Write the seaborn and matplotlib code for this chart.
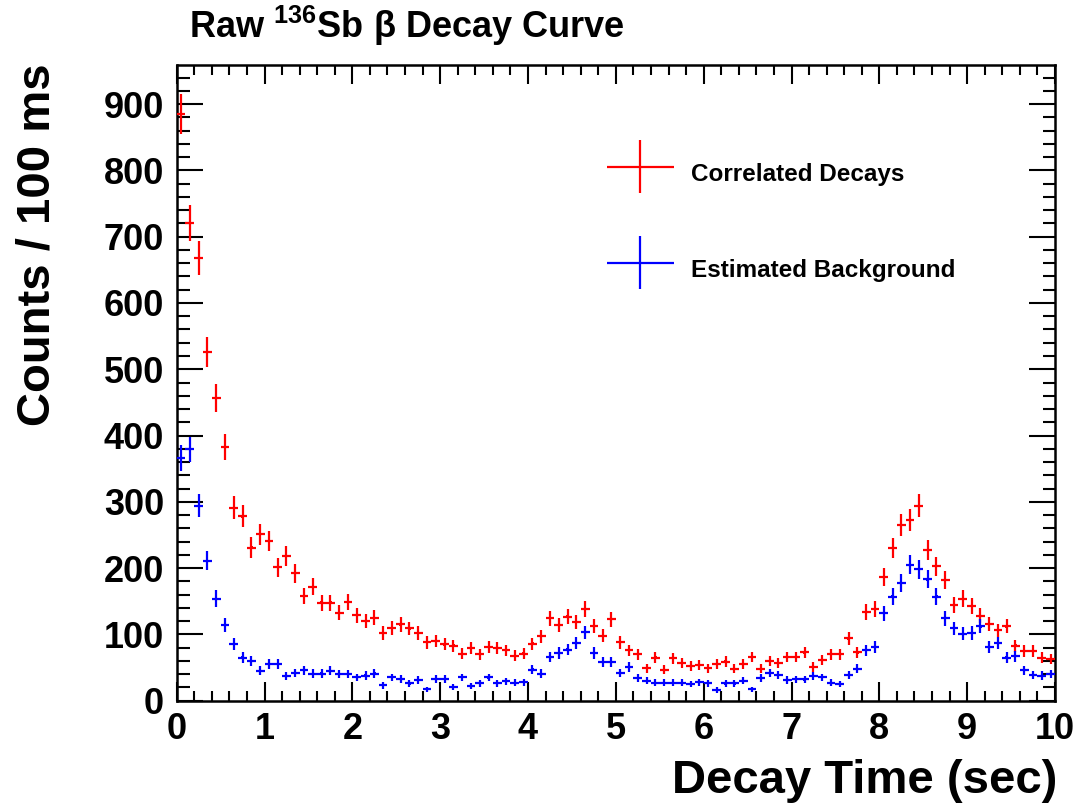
import numpy as np
import pandas as pd
import matplotlib
matplotlib.use("Agg")
import matplotlib.pyplot as plt
import seaborn as sns
from matplotlib.ticker import MultipleLocator
from matplotlib.legend_handler import HandlerErrorbar

# ---- data ----
bin_width = 0.1
time_centers = np.round(np.arange(100) * bin_width + bin_width / 2, 3)

correlated = [885, 721, 668, 526, 457, 383, 291, 278, 231, 251,
              241, 201, 218, 192, 158, 172, 148, 148, 133, 149,
              129, 120, 125, 102, 110, 115, 109, 102, 88, 90,
              85, 83, 71, 79, 70, 81, 79, 76, 68, 71,
              86, 97, 124, 114, 127, 119, 138, 113, 98, 123,
              88, 76, 70, 49, 65, 47, 64, 57, 52, 54,
              49, 56, 59, 48, 56, 66, 48, 60, 57, 66,
              66, 73, 51, 61, 70, 70, 94, 73, 134, 138,
              187, 230, 265, 273, 294, 227, 203, 182, 144, 154,
              143, 128, 116, 106, 112, 83, 75, 75, 65, 63]

background = [366, 379, 294, 211, 154, 114, 86, 65, 60, 45,
              55, 56, 37, 42, 46, 41, 41, 45, 40, 40,
              35, 38, 41, 23, 35, 33, 26, 31, 17, 33,
              33, 21, 35, 22, 26, 35, 26, 29, 27, 28,
              47, 41, 66, 72, 77, 87, 103, 72, 58, 58,
              42, 51, 34, 30, 27, 27, 27, 27, 25, 28,
              26, 16, 26, 26, 30, 17, 34, 42, 39, 31,
              32, 32, 37, 35, 27, 25, 39, 48, 76, 81,
              132, 157, 178, 205, 198, 183, 157, 124, 109, 101,
              102, 112, 81, 87, 65, 67, 46, 39, 38, 40]

series_names = ["Correlated Decays", "Estimated Background"]
series_colors = {"Correlated Decays": "#ff0000", "Estimated Background": "#0000ff"}

df = pd.DataFrame({
    "time": np.concatenate([time_centers, time_centers]),
    "counts": np.concatenate([correlated, background]).astype(float),
    "series": [series_names[0]] * 100 + [series_names[1]] * 100,
})
df["err"] = np.sqrt(df["counts"])

# ---- style ----
sns.set_theme(style="ticks")
plt.rcParams["font.family"] = ["Liberation Sans", "DejaVu Sans"]
plt.rcParams["font.weight"] = "bold"
plt.rcParams["text.color"] = "black"
plt.rcParams["axes.labelcolor"] = "black"
plt.rcParams["xtick.color"] = "black"
plt.rcParams["ytick.color"] = "black"
plt.rcParams["xtick.labelcolor"] = "black"
plt.rcParams["ytick.labelcolor"] = "black"
plt.rcParams["mathtext.fontset"] = "custom"
plt.rcParams["mathtext.rm"] = "Liberation Sans:bold"
plt.rcParams["mathtext.bf"] = "Liberation Sans:bold"
plt.rcParams["mathtext.default"] = "rm"

fig = plt.figure(figsize=(10.86, 8.06), dpi=100)
fig.patch.set_facecolor("white")
ax = fig.add_axes([0.16271, 0.13065, 0.80875, 0.78871])
ax.set_facecolor("white")

handles = []
for name in series_names:
    sub = df[df["series"] == name]
    cont = ax.errorbar(sub["time"], sub["counts"], xerr=bin_width / 2, yerr=sub["err"],
                       fmt="none", ecolor=series_colors[name], elinewidth=1.6,
                       capsize=0, label=name, zorder=3)
    handles.append(cont)

sns.scatterplot(data=df, x="time", y="counts", hue="series", palette=series_colors,
                marker="s", s=3, linewidth=0, legend=False, ax=ax, zorder=4)

ax.set_xlim(0, 10)
ax.set_ylim(0, 959)

ax.xaxis.set_major_locator(MultipleLocator(1))
ax.xaxis.set_minor_locator(MultipleLocator(0.2))
ax.yaxis.set_major_locator(MultipleLocator(100))
ax.yaxis.set_minor_locator(MultipleLocator(20))

for s in ax.spines.values():
    s.set_linewidth(1.8)
    s.set_color("black")

ax.tick_params(axis="both", which="both", direction="in", top=True, right=True,
               width=1.5, color="black", labelcolor="black", labelsize=26)
ax.tick_params(axis="x", which="major", length=14, pad=8)
ax.tick_params(axis="x", which="minor", length=7)
ax.tick_params(axis="y", which="major", length=18.5, pad=9)
ax.tick_params(axis="y", which="minor", length=9)
for lab in ax.get_xticklabels() + ax.get_yticklabels():
    lab.set_fontweight("bold")

ax.set_xlabel("Decay Time (sec)", fontsize=34, fontweight="bold", loc="right", color="black")
ax.xaxis.set_label_coords(1.003, -0.092)
ax.xaxis.label.set_va("top")
ax.set_ylabel("Counts / 100 ms", fontsize=34, fontweight="bold", loc="top", color="black")
ax.yaxis.set_label_coords(-0.133, 1.003)

fig.text(189 / 1086, 1 - 26 / 806, r"Raw $^{136}$Sb β Decay Curve", fontsize=26,
         fontweight="bold", ha="left", va="center", color="black")

leg = ax.legend(handles=handles, labels=series_names, loc="upper left",
                bbox_to_anchor=(0.4893, 0.8631), frameon=False, fontsize=17.5,
                handlelength=2.8, handleheight=2.4, handletextpad=0.66,
                labelspacing=2.14, borderpad=0, borderaxespad=0,
                handler_map={type(handles[0]): HandlerErrorbar(xerr_size=1.38, yerr_size=1.1)})
for t in leg.get_texts():
    t.set_fontweight("bold")
    t.set_color("black")

fig.savefig("out.png", dpi=100, facecolor="white")
